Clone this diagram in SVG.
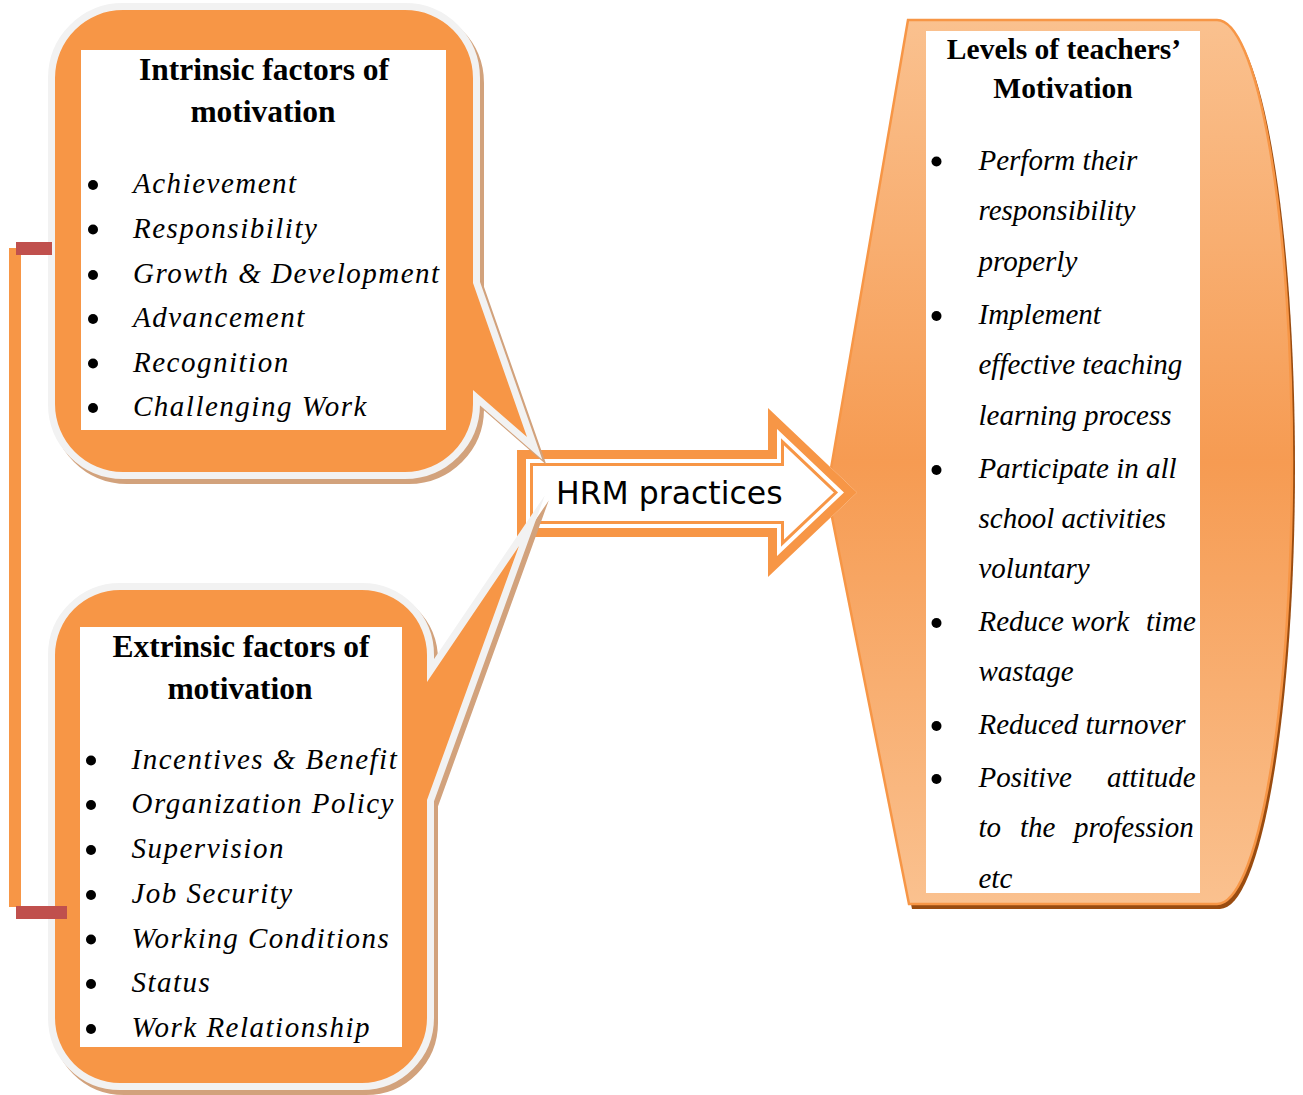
<svg xmlns="http://www.w3.org/2000/svg" width="1303" height="1095" viewBox="0 0 1303 1095">
<style>
.title{font-family:"Liberation Serif","Times New Roman",serif;font-weight:bold;font-size:31.5px;fill:#000;text-anchor:middle}
.rtitle{font-family:"Liberation Serif","Times New Roman",serif;font-weight:bold;font-size:29.5px;fill:#000;text-anchor:middle}
.item{font-family:"Liberation Serif","Times New Roman",serif;font-style:italic;font-size:29px;letter-spacing:1.5px;fill:#000}
.ritem{font-family:"Liberation Serif","Times New Roman",serif;font-style:italic;font-size:29px;fill:#000}
.hrm{font-family:"DejaVu Sans","Liberation Sans",sans-serif;font-size:31.5px;fill:#000}
.shadow{fill:#d2a27c;stroke:#d2a27c;stroke-width:14;stroke-linejoin:miter;stroke-miterlimit:12}
.rim{fill:#f2f2f2;stroke:#f2f2f2;stroke-width:14;stroke-linejoin:miter;stroke-miterlimit:12}
.body{fill:#f79646}
.box{fill:#fff}
.dot{fill:#000}
</style>
<defs>
<linearGradient id="rg" x1="0" y1="0" x2="0" y2="1">
<stop offset="0" stop-color="#fac18f"/>
<stop offset="0.5" stop-color="#f69b52"/>
<stop offset="1" stop-color="#fac18f"/>
</linearGradient>
</defs>

<g id="levels">
<path d="M 908 20 H 1217 A 75 442 0 0 1 1217 904 H 909 L 827 492 Z" transform="translate(3,5)" fill="#9a4c10"/>
<path d="M 908 20 H 1217 A 75 442 0 0 1 1217 904 H 909 L 827 492 Z" fill="url(#rg)" stroke="#f79646" stroke-width="2.5"/>
<rect class="box" x="926" y="31" width="274" height="862"/>
<text class="rtitle" x="1064" y="59">Levels of teachers’</text>
<text class="rtitle" x="1063" y="98">Motivation</text>
<circle class="dot" cx="936.5" cy="161.5" r="5"/>
<text class="ritem" x="978.5" y="169.5">Perform their</text>
<text class="ritem" x="978.5" y="220">responsibility</text>
<text class="ritem" x="978.5" y="270.5">properly</text>
<circle class="dot" cx="936.5" cy="316" r="5"/>
<text class="ritem" x="978.5" y="324">Implement</text>
<text class="ritem" x="978.5" y="374">effective teaching</text>
<text class="ritem" x="978.5" y="425">learning process</text>
<circle class="dot" cx="936.5" cy="470" r="5"/>
<text class="ritem" x="978.5" y="478">Participate in all</text>
<text class="ritem" x="978.5" y="528">school activities</text>
<text class="ritem" x="978.5" y="578">voluntary</text>
<circle class="dot" cx="936.5" cy="623" r="5"/>
<text class="ritem" y="631"><tspan x="978.5">Reduce work</tspan><tspan x="1146">time</tspan></text>
<text class="ritem" x="978.5" y="681">wastage</text>
<circle class="dot" cx="936.5" cy="726" r="5"/>
<text class="ritem" x="978.5" y="734">Reduced turnover</text>
<circle class="dot" cx="936.5" cy="779" r="5"/>
<text class="ritem" y="787"><tspan x="978.5">Positive</tspan><tspan x="1107">attitude</tspan></text>
<text class="ritem" y="837"><tspan x="978.5">to</tspan><tspan x="1020">the</tspan><tspan x="1074">profession</tspan></text>
<text class="ritem" x="978.5" y="888">etc</text>
</g>

<g id="hrm">
<path d="M 517 450 H 768 V 408 L 857 492.5 L 768 577 V 537 H 517 Z" fill="#fff"/>
<path d="M 521.5 454.5 H 772.5 V 418.5 L 850.5 492.5 L 772.5 566.5 V 532.5 H 521.5 Z" fill="none" stroke="#f79646" stroke-width="9" stroke-linejoin="miter" stroke-miterlimit="10"/>
<path d="M 531.5 464.5 H 782.5 V 441.8 L 835.9 492.5 L 782.5 543.2 V 522.5 H 531.5 Z" fill="none" stroke="#f79646" stroke-width="3" stroke-linejoin="miter" stroke-miterlimit="10"/>
<text class="hrm" x="556" y="503.5">HRM practices</text>
</g>

<g id="intrinsic">
<path class="shadow" transform="translate(4,5)" d="M 123 10 H 405 A 68 68 0 0 1 473 78 V 283 L 527 437 L 473 390 V 404 A 68 68 0 0 1 405 472 H 123 A 68 68 0 0 1 55 404 V 78 A 68 68 0 0 1 123 10 Z"/>
<path class="rim" d="M 123 10 H 405 A 68 68 0 0 1 473 78 V 283 L 527 437 L 473 390 V 404 A 68 68 0 0 1 405 472 H 123 A 68 68 0 0 1 55 404 V 78 A 68 68 0 0 1 123 10 Z"/>
<path class="body" d="M 123 10 H 405 A 68 68 0 0 1 473 78 V 283 L 527 437 L 473 390 V 404 A 68 68 0 0 1 405 472 H 123 A 68 68 0 0 1 55 404 V 78 A 68 68 0 0 1 123 10 Z"/>
<rect class="box" x="81" y="50" width="365" height="380"/>
<text class="title" x="264" y="80">Intrinsic factors of</text>
<text class="title" x="263" y="122">motivation</text>
<circle class="dot" cx="93" cy="185" r="5"/>
<text class="item" x="133" y="193">Achievement</text>
<circle class="dot" cx="93" cy="229.5" r="5"/>
<text class="item" x="133" y="237.5">Responsibility</text>
<circle class="dot" cx="93" cy="275" r="5"/>
<text class="item" x="133" y="283">Growth &amp; Development</text>
<circle class="dot" cx="93" cy="319" r="5"/>
<text class="item" x="133" y="327">Advancement</text>
<circle class="dot" cx="93" cy="363.5" r="5"/>
<text class="item" x="133" y="371.5">Recognition</text>
<circle class="dot" cx="93" cy="408" r="5"/>
<text class="item" x="133" y="416">Challenging Work</text>
</g>

<g id="extrinsic">
<path class="shadow" transform="translate(4,5)" d="M 120 590 H 362 A 65 65 0 0 1 427 655 V 682 L 519 546 L 427 800 V 1018 A 65 65 0 0 1 362 1083 H 120 A 65 65 0 0 1 55 1018 V 655 A 65 65 0 0 1 120 590 Z"/>
<path class="rim" d="M 120 590 H 362 A 65 65 0 0 1 427 655 V 682 L 519 546 L 427 800 V 1018 A 65 65 0 0 1 362 1083 H 120 A 65 65 0 0 1 55 1018 V 655 A 65 65 0 0 1 120 590 Z"/>
<path class="body" d="M 120 590 H 362 A 65 65 0 0 1 427 655 V 682 L 519 546 L 427 800 V 1018 A 65 65 0 0 1 362 1083 H 120 A 65 65 0 0 1 55 1018 V 655 A 65 65 0 0 1 120 590 Z"/>
<rect class="box" x="80" y="627" width="322" height="420"/>
<text class="title" x="241" y="657">Extrinsic factors of</text>
<text class="title" x="240" y="699">motivation</text>
<circle class="dot" cx="91" cy="760.5" r="5"/>
<text class="item" x="131.5" y="768.5">Incentives &amp; Benefit</text>
<circle class="dot" cx="91" cy="805" r="5"/>
<text class="item" x="131.5" y="813">Organization Policy</text>
<circle class="dot" cx="91" cy="850" r="5"/>
<text class="item" x="131.5" y="858">Supervision</text>
<circle class="dot" cx="91" cy="895" r="5"/>
<text class="item" x="131.5" y="903">Job Security</text>
<circle class="dot" cx="91" cy="939.5" r="5"/>
<text class="item" x="131.5" y="947.5">Working Conditions</text>
<circle class="dot" cx="91" cy="984" r="5"/>
<text class="item" x="131.5" y="992">Status</text>
<circle class="dot" cx="91" cy="1029" r="5"/>
<text class="item" x="131.5" y="1037">Work Relationship</text>
</g>

<g id="connectors">
<path d="M 15 248 V 907" stroke="#f79646" stroke-width="12" fill="none"/>
<rect x="16" y="242" width="36" height="13" fill="#c0504d"/>
<rect x="16" y="906" width="51" height="13" fill="#c0504d"/>
</g>
</svg>
